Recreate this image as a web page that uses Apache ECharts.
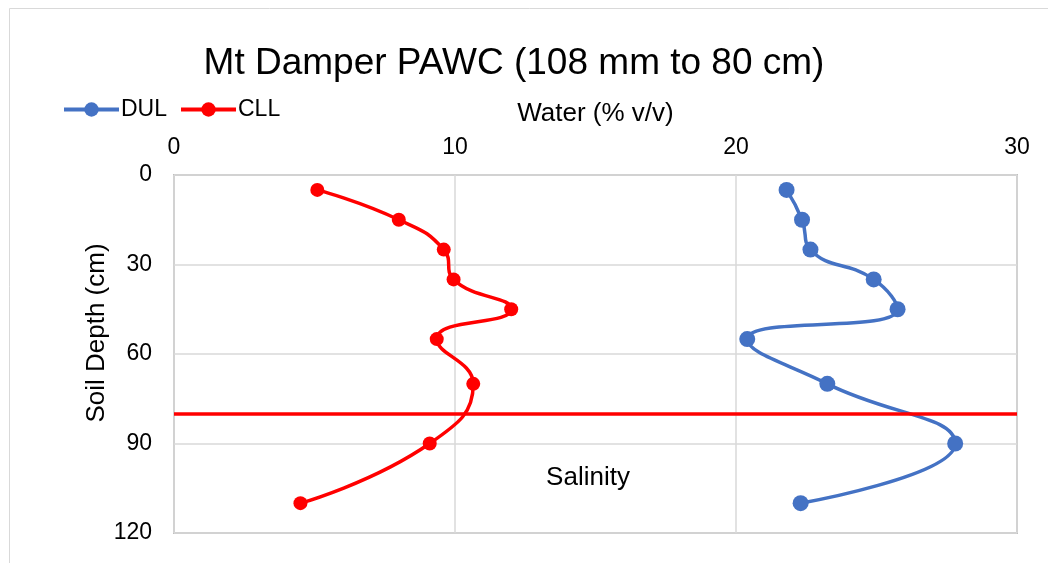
<!DOCTYPE html>
<html>
<head>
<meta charset="utf-8">
<script src="https://cdn.jsdelivr.net/npm/echarts@6/dist/echarts.min.js"></script>
<style>
  html, body { margin: 0; padding: 0; background: #fff; }
  #chart { width: 1048px; height: 563px; }
</style>
</head>
<body>
<div id="chart"></div>
<script>
// soil depths (cm) for each sample
const depths = [5, 15, 25, 35, 45, 55, 70, 90, 110];
// water content (% v/v)
const dul = [21.8, 22.35, 22.65, 24.9, 25.75, 20.4, 23.25, 27.8, 22.3];
const cll = [5.1, 8.0, 9.6, 9.95, 12.0, 9.35, 10.65, 9.1, 4.5];
const waterTicks = [0, 10, 20, 30];
const depthTicks = [0, 30, 60, 90, 120];
const salinityDepth = 80;

const font = '"Liberation Sans", Arial, sans-serif';
const toPairs = vals => vals.map((v, i) => [v, depths[i]]);

const chart = echarts.init(document.getElementById('chart'));

chart.setOption({
  animation: false,
  backgroundColor: '#fff',
  title: {
    text: 'Mt Damper PAWC (108 mm to 80 cm)',
    left: 514,
    top: 45,
    textAlign: 'center',
    padding: 0,
    textStyle: { fontFamily: font, fontSize: 37, fontWeight: 'normal', color: '#000' }
  },
  legend: {
    left: 62,
    top: 98,
    padding: 0,
    itemWidth: 55,
    itemHeight: 18,
    itemGap: 12,
    lineStyle: { width: 4 },
    textStyle: { fontFamily: font, fontSize: 23, color: '#000', padding: [0, 0, 0, -3] },
    data: ['DUL', 'CLL']
  },
  grid: {
    left: 174,
    right: 31,
    top: 175,
    bottom: 30,
    show: true,
    borderColor: '#bfbfbf',
    borderWidth: 2
  },
  xAxis: {
    type: 'value',
    position: 'top',
    min: waterTicks[0],
    max: waterTicks[waterTicks.length - 1],
    interval: 10,
    name: 'Water (% v/v)',
    nameLocation: 'middle',
    nameGap: 48,
    nameTextStyle: { fontFamily: font, fontSize: 26, color: '#000' },
    axisLine: { show: false },
    axisTick: { show: false },
    axisLabel: { fontFamily: font, fontSize: 23, color: '#000', margin: 16 },
    splitLine: { lineStyle: { color: '#d9d9d9', width: 1.5 } }
  },
  yAxis: {
    type: 'value',
    inverse: true,
    min: depthTicks[0],
    max: depthTicks[depthTicks.length - 1],
    interval: 30,
    axisLine: { show: false },
    axisTick: { show: false },
    axisLabel: { fontFamily: font, fontSize: 23, color: '#000', margin: 22 },
    splitLine: { lineStyle: { color: '#d9d9d9', width: 1.5 } }
  },
  graphic: [
    {
      type: 'rect',
      shape: { x: 9.5, y: 8.5, width: 1200, height: 700 },
      style: { fill: 'none', stroke: '#d9d9d9', lineWidth: 1 },
      silent: true
    },
    {
      type: 'text',
      x: 97,
      y: 333,
      rotation: Math.PI / 2,
      style: {
        text: 'Soil Depth (cm)',
        fontFamily: font,
        fontSize: 26,
        fill: '#000',
        align: 'center',
        verticalAlign: 'middle'
      }
    },
    {
      type: 'text',
      x: 588,
      y: 478,
      style: {
        text: 'Salinity',
        fontFamily: font,
        fontSize: 26,
        fill: '#000',
        align: 'center',
        verticalAlign: 'middle'
      }
    }
  ],
  series: [
    {
      name: 'DUL',
      type: 'line',
      smooth: true,
      symbol: 'circle',
      symbolSize: 16,
      color: '#4472C4',
      lineStyle: { width: 3.5, color: '#4472C4' },
      itemStyle: { color: '#4472C4' },
      data: toPairs(dul),
      z: 3
    },
    {
      name: 'CLL',
      type: 'line',
      smooth: true,
      symbol: 'circle',
      symbolSize: 14,
      color: '#FF0000',
      lineStyle: { width: 3.5, color: '#FF0000' },
      itemStyle: { color: '#FF0000' },
      data: toPairs(cll),
      z: 4,
      markLine: {
        silent: true,
        symbol: 'none',
        label: { show: false },
        lineStyle: { color: '#FF0000', width: 3.5, type: 'solid' },
        emphasis: { disabled: true },
        data: [{ yAxis: salinityDepth }]
      }
    }
  ]
});
</script>
</body>
</html>
